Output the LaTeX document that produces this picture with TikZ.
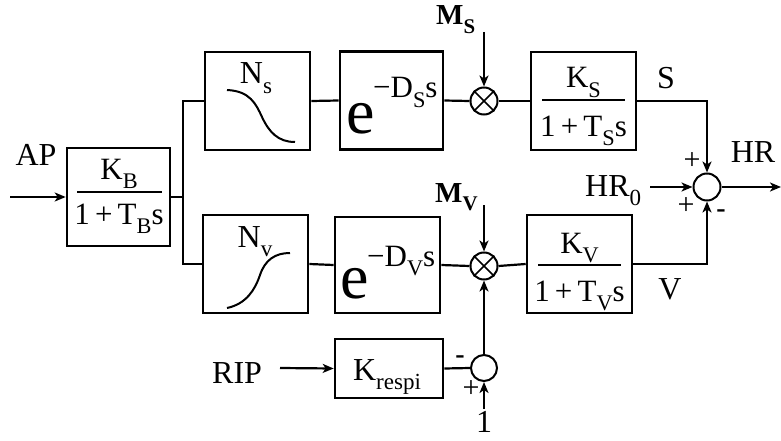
\documentclass[tikz,border=0pt]{standalone}
\usepackage{fontspec}
\setmainfont{Liberation Serif}
\usetikzlibrary{arrows.meta}
\newcommand\dn[1]{\raisebox{-0.3em}{\scalebox{0.72}{#1}}}
\begin{document}
\begin{tikzpicture}[x=1pt,y=-1pt,
 blk/.style={draw, line width=2.6pt, inner sep=0, minimum width=103pt, minimum height=98pt},
 wire/.style={line width=2.2pt},
 arr/.style={wire, -{Stealth[length=11pt,width=9pt,inset=3pt]}},
 circ/.style={circle, draw, line width=2pt, minimum size=27pt, inner sep=0},
 lbl/.style={font=\fontsize{32}{32}\selectfont, inner sep=0},
 blbl/.style={font=\bfseries\fontsize{29}{29}\selectfont, inner sep=0, anchor=base west},
 ftx/.style={font=\fontsize{31}{31}\selectfont, inner sep=0, anchor=base},
 frl/.style={line width=1.8pt},
 curv/.style={line width=2pt},
 sgn/.style={font=\fontsize{30}{30}\selectfont, inner sep=0},
 big/.style={font=\fontsize{64}{64}\selectfont, inner sep=0, anchor=base west},
 sup/.style={font=\fontsize{31}{31}\selectfont, inner sep=0, anchor=base west},
]
\useasboundingbox (0,0) rectangle (781,441);
% blocks
\node[blk] (kb) at (118.5,197) {};
\node[blk, minimum width=105pt] (ns) at (257.5,101) {};
\node[blk] (eds) at (391.5,100.5) {};
\node[circ] (m1) at (484,101) {};
\node[blk, minimum width=105pt] (ks) at (583.5,101) {};
\node[circ] (sum) at (707,187) {};
\node[blk, minimum width=105pt] (nv) at (255.5,264) {};
\node[blk, minimum width=105pt, minimum height=96pt] (edv) at (387.5,265) {};
\node[circ] (m2) at (484,266) {};
\node[blk, minimum width=105pt] (kv) at (579.5,264) {};
\node[blk, minimum width=108pt, minimum height=59pt] (kr) at (389,368.5) {};
\node[circ, minimum size=26pt] (s2) at (484,368) {};
% multiplier crosses
\draw[line width=1.6pt] (m1.north east) -- (m1.south west) (m1.north west) -- (m1.south east);
\draw[line width=1.6pt] (m2.north east) -- (m2.south west) (m2.north west) -- (m2.south east);
% fraction contents
\draw[frl] (77,192) -- (162,192);
\node[ftx] (kbn) at (119,179) {K\dn{B}};
\node[ftx] (kbd) at (119,224) {1\,+\,T\dn{B}s};
\draw[frl] (542,100) -- (625,100);
\node[ftx] (ksn) at (583.5,88) {K\dn{S}};
\node[ftx] (ksd) at (583.5,136) {1\,+\,T\dn{S}s};
\draw[frl] (538,265) -- (621,265);
\node[ftx] (kvn) at (579.5,253) {K\dn{V}};
\node[ftx] (kvd) at (579.5,301) {1\,+\,T\dn{V}s};
\node[ftx, font=\fontsize{32}{32}\selectfont] (krt) at (387,380) {K\dn{respi}};
% nonlinear blocks
\node[lbl, anchor=base] (nsl) at (256,84) {N\dn{s}};
\node[lbl, anchor=base] (nvl) at (255,247) {N\dn{v}};
\draw[curv] (227,90) .. controls (250,91) and (256,104) .. (262,117)
  .. controls (269,132) and (278,142) .. (295,142);
\draw[curv] (227,308) .. controls (246,304) and (255,290) .. (260,275)
  .. controls (265,260) and (275,253) .. (290,253);
% delays
\node[big] (e1) at (346,133) {e};
\node[sup] (e1s) at (373,98) {−D\dn{S}s};
\node[big] (e2) at (340,298) {e};
\node[sup] (e2s) at (367,266) {−D\dn{V}s};
% coordinates
\coordinate (apin) at (10,197);
\coordinate (j) at (183,197);
\coordinate (jt) at (183,101);
\coordinate (jb) at (183,264);
\coordinate (msin) at (484,32);
\coordinate (mvin) at (484,205);
\coordinate (hr0in) at (650,187);
\coordinate (out) at (781,187);
\coordinate (ripin) at (280,368);
\coordinate (onein) at (484,409);
% connectors
\draw[arr] (apin) -- (kb.west);
\draw[wire] (kb.east) -- (j);
\draw[wire] (ns.west) -- (jt) -- (jb) -- (nv.west);
\draw[wire] (ns.east) -- (eds.west);
\draw[wire] (eds.east) -- (m1.west);
\draw[wire] (m1.east) -- (ks.west);
\draw[wire] (nv.east) -- (edv.west);
\draw[wire] (edv.east) -- (m2.west);
\draw[wire] (m2.east) -- (kv.west);
\draw[arr] (msin) -- (m1.north);
\draw[arr] (mvin) -- (m2.north);
\draw[arr] (ks.east) -| (sum.north);
\draw[arr] (kv.east) -| (sum.south);
\draw[arr] (hr0in) -- (sum.west);
\draw[arr] (sum.east) -- (out);
\draw[arr] (ripin) -- (kr.west);
\draw[wire] (kr.east) -- (s2.west);
\draw[arr] (onein) -- (s2.south);
\draw[arr] (s2.north) -- (m2.south);
% labels
\node[lbl] (ap) at (36,155) {AP};
\node[lbl] (sl) at (666,78) {S};
\node[lbl] (hr) at (753,152) {HR};
\node[lbl, anchor=base west] (hr0) at (585,196) {HR\dn{0}};
\node[lbl, anchor=base] (vl) at (670,299) {V};
\node[lbl, anchor=base west] (rip) at (212,383) {RIP};
\node[lbl, anchor=base] (one) at (484,432) {1};
\node[blbl] (ms) at (436,25) {M\dn{S}};
\node[blbl] (mv) at (435,202) {M\dn{V}};
% signs
\node[sgn] (p1) at (692,161) {+};
\node[sgn] (p2) at (686,206) {+};
\node[sgn, font=\bfseries\fontsize{28}{28}\selectfont] (n1) at (721,214) {-};
\node[sgn, font=\bfseries\fontsize{28}{28}\selectfont] (n2) at (460,360) {-};
\node[sgn] (p3) at (471,389) {+};
\end{tikzpicture}
\end{document}
